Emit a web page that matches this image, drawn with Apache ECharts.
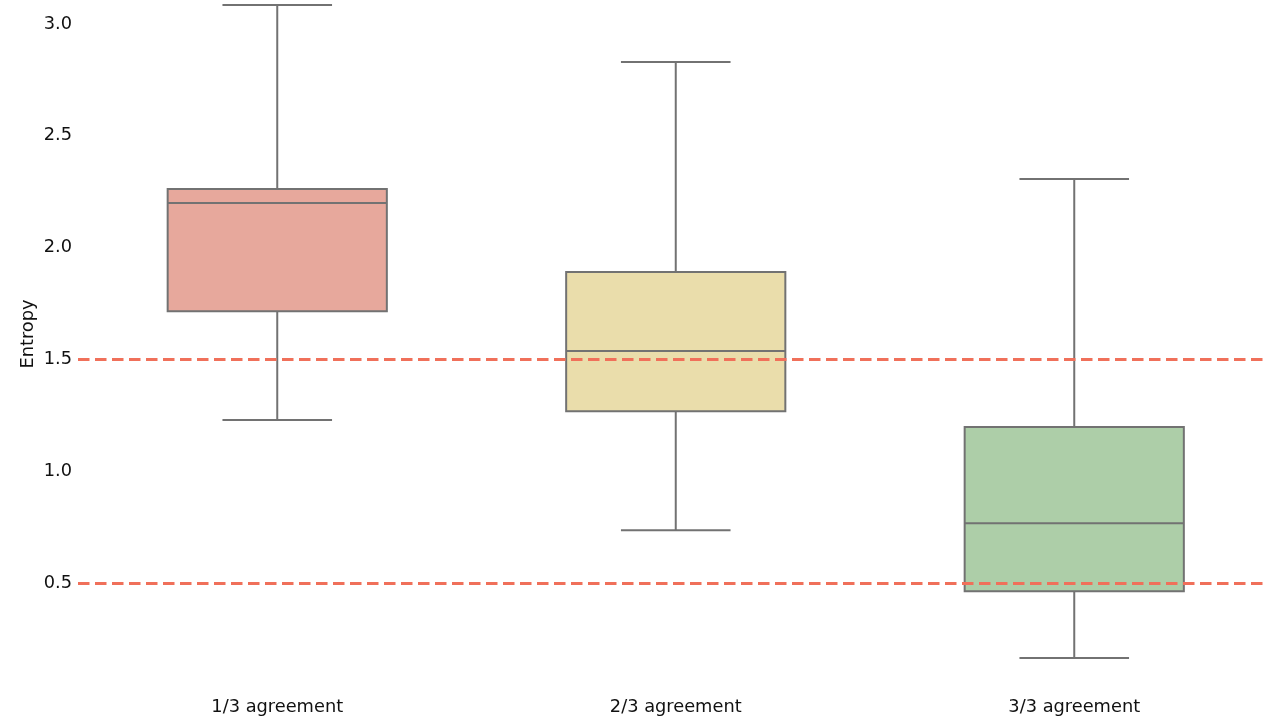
<!DOCTYPE html>
<html>
<head>
<meta charset="utf-8">
<title>Entropy by agreement level</title>
<script src="https://cdn.jsdelivr.net/npm/echarts@6/dist/echarts.min.js"></script>
<style>
  html, body { margin: 0; padding: 0; background: #fff; overflow: hidden; }
  #chart { width: 1274px; height: 721px; }
</style>
</head>
<body>
<div id="chart"></div>
<script>
// Agreement groups and their box statistics (entropy)
const categories = ['1/3 agreement', '2/3 agreement', '3/3 agreement'];
const whiskerLow  = [1.229, 0.737, 0.165];
const q1Values    = [1.716, 1.269, 0.464];
const medians     = [2.200, 1.538, 0.768];
const q3Values    = [2.262, 1.891, 1.198];
const whiskerHigh = [3.085, 2.830, 2.307];
const boxColors   = ['#e7a89c', '#eaddab', '#adcea8'];

// Reference thresholds drawn as dashed lines
const thresholds = [1.5, 0.5];

// Y tick labels shown
const yTicks = ['0.5', '1.0', '1.5', '2.0', '2.5', '3.0'];

const FONT = 'DejaVu Sans';
const FONT_SIZE = 17.8;
const EDGE = '#727272';

const boxData = categories.map((c, i) => [
  i, whiskerLow[i], q1Values[i], medians[i], q3Values[i], whiskerHigh[i]
]);

const chart = echarts.init(document.getElementById('chart'), null, { renderer: 'canvas' });

chart.setOption({
  animation: false,
  backgroundColor: '#ffffff',
  grid: { left: 78, top: 0, width: 1195.5, height: 695, containLabel: false },
  xAxis: {
    type: 'category',
    data: categories,
    boundaryGap: true,
    axisLine: { show: false },
    axisTick: { show: false },
    splitLine: { show: false },
    axisLabel: { margin: 3, color: '#111', fontFamily: FONT, fontSize: FONT_SIZE }
  },
  yAxis: {
    type: 'value',
    min: 0,
    max: 3.107,
    interval: 0.5,
    axisLine: { show: false },
    axisTick: { show: false },
    splitLine: { show: false },
    axisLabel: {
      margin: 6,
      padding: [4, 0, 0, 0],
      color: '#111',
      fontFamily: FONT,
      fontSize: FONT_SIZE,
      showMaxLabel: false,
      formatter: v => {
        const s = Number(v).toFixed(1);
        return yTicks.includes(s) && Math.abs(v * 2 - Math.round(v * 2)) < 1e-6 ? s : '';
      }
    }
  },
  graphic: [{
    type: 'text',
    x: 28,
    y: 334,
    rotation: Math.PI / 2,
    style: {
      text: 'Entropy',
      fill: '#111',
      font: FONT_SIZE + 'px "' + FONT + '"',
      align: 'center',
      verticalAlign: 'middle'
    }
  }],
  series: [
    {
      type: 'custom',
      name: 'Entropy',
      data: boxData,
      encode: { x: 0, y: [1, 2, 3, 4, 5] },
      z: 2,
      renderItem: function (params, api) {
        const idx = api.value(0);
        const band = api.size([1, 0])[0];
        const bw = band * 0.55;
        const cw = bw / 2;
        const pLow = api.coord([idx, api.value(1)]);
        const pQ1 = api.coord([idx, api.value(2)]);
        const pMed = api.coord([idx, api.value(3)]);
        const pQ3 = api.coord([idx, api.value(4)]);
        const pHigh = api.coord([idx, api.value(5)]);
        const cx = pQ1[0];
        const lineStyle = { stroke: EDGE, lineWidth: 2, fill: null };
        return {
          type: 'group',
          children: [
            { type: 'line', shape: { x1: cx, y1: pQ1[1], x2: cx, y2: pLow[1] }, style: lineStyle },
            { type: 'line', shape: { x1: cx, y1: pQ3[1], x2: cx, y2: pHigh[1] }, style: lineStyle },
            { type: 'line', shape: { x1: cx - cw / 2, y1: pLow[1], x2: cx + cw / 2, y2: pLow[1] }, style: lineStyle },
            { type: 'line', shape: { x1: cx - cw / 2, y1: pHigh[1], x2: cx + cw / 2, y2: pHigh[1] }, style: lineStyle },
            {
              type: 'rect',
              shape: { x: cx - bw / 2, y: pQ3[1], width: bw, height: pQ1[1] - pQ3[1] },
              style: { fill: boxColors[idx], stroke: EDGE, lineWidth: 2 }
            },
            { type: 'line', shape: { x1: cx - bw / 2, y1: pMed[1], x2: cx + bw / 2, y2: pMed[1] }, style: lineStyle }
          ]
        };
      }
    },
    {
      type: 'line',
      name: 'thresholds',
      data: [],
      z: 10,
      markLine: {
        silent: true,
        symbol: 'none',
        label: { show: false },
        lineStyle: { color: '#f0705a', width: 3, type: [11.5, 5.5] },
        data: thresholds.map(t => ({ yAxis: t }))
      }
    }
  ]
});
</script>
</body>
</html>
